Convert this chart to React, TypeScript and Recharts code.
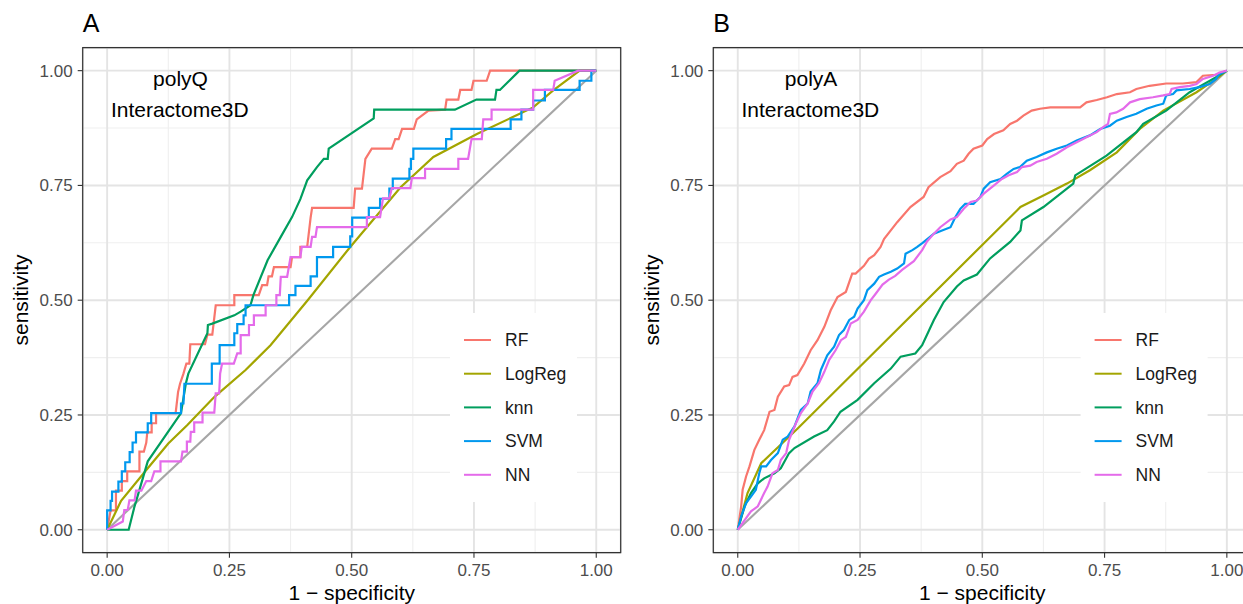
import React from "react";
import { LineChart, Line, XAxis, YAxis, CartesianGrid, ReferenceArea } from "recharts";

type Pt = [number, number];

// ROC curves: [1 - specificity, sensitivity]
const models = ["RF", "LogReg", "knn", "SVM", "NN"];
const modelColors = ["#F8766D", "#A3A500", "#009E5E", "#0098EE", "#E46BEA"];
const axisTicks = [0, 0.25, 0.5, 0.75, 1];
const minorTicks = [0.125, 0.375, 0.625, 0.875];
const chanceLine: Pt[] = [[0, 0], [1, 1]];

const polyQ_RF: Pt[] = [
  [0, 0], [0.007, 0.042], [0.018, 0.042], [0.018, 0.085], [0.03, 0.085], [0.03, 0.106], [0.041, 0.106],
  [0.041, 0.127], [0.066, 0.127], [0.066, 0.17], [0.075, 0.17], [0.08, 0.19], [0.082, 0.212], [0.091, 0.212],
  [0.091, 0.232], [0.1, 0.232], [0.1, 0.254], [0.14, 0.254], [0.145, 0.3], [0.149, 0.318], [0.156, 0.34],
  [0.162, 0.362], [0.168, 0.362], [0.17, 0.404], [0.2, 0.404], [0.205, 0.425], [0.215, 0.425], [0.222, 0.489],
  [0.26, 0.489], [0.26, 0.511], [0.31, 0.511], [0.317, 0.533], [0.327, 0.533], [0.33, 0.552], [0.337, 0.552],
  [0.341, 0.572], [0.375, 0.572], [0.378, 0.594], [0.395, 0.594], [0.395, 0.616], [0.409, 0.616], [0.416, 0.68],
  [0.419, 0.701], [0.504, 0.701], [0.507, 0.743], [0.521, 0.743], [0.528, 0.808], [0.541, 0.83], [0.582, 0.83],
  [0.589, 0.851], [0.596, 0.851], [0.603, 0.873], [0.627, 0.873], [0.633, 0.894], [0.657, 0.913], [0.691, 0.915],
  [0.694, 0.937], [0.718, 0.937], [0.722, 0.958], [0.745, 0.958], [0.749, 0.978], [0.776, 0.978], [0.783, 1], [1, 1],
];
const polyQ_LogReg: Pt[] = [
  [0, 0], [0.0285, 0.063], [0.083, 0.134], [0.125, 0.188], [0.164, 0.228], [0.22, 0.29], [0.283, 0.348],
  [0.334, 0.402], [0.41, 0.5], [0.497, 0.616], [0.6, 0.746], [0.667, 0.812], [0.756, 0.862], [0.871, 0.92],
  [0.912, 0.957], [0.966, 1], [1, 1],
];
const polyQ_knn: Pt[] = [
  [0, 0], [0.044, 0], [0.056, 0.051], [0.063, 0.076], [0.083, 0.149], [0.151, 0.254], [0.161, 0.319],
  [0.166, 0.34], [0.205, 0.428], [0.206, 0.446], [0.215, 0.449], [0.26, 0.467], [0.273, 0.475], [0.293, 0.489],
  [0.299, 0.511], [0.328, 0.587], [0.355, 0.638], [0.378, 0.681], [0.395, 0.72], [0.409, 0.761], [0.429, 0.79],
  [0.443, 0.808], [0.451, 0.808], [0.453, 0.83], [0.545, 0.896], [0.546, 0.915], [0.711, 0.915], [0.755, 0.937],
  [0.793, 0.937], [0.796, 0.958], [0.803, 0.958], [0.843, 1], [1, 1],
];
const polyQ_SVM: Pt[] = [
  [0, 0], [0, 0.042], [0.007, 0.042], [0.007, 0.063], [0.01, 0.063], [0.01, 0.083], [0.023, 0.083],
  [0.023, 0.105], [0.03, 0.105], [0.03, 0.127], [0.037, 0.127], [0.037, 0.147], [0.046, 0.147], [0.046, 0.169],
  [0.052, 0.169], [0.052, 0.19], [0.059, 0.19], [0.059, 0.212], [0.083, 0.212], [0.083, 0.232], [0.09, 0.232],
  [0.09, 0.254], [0.151, 0.254], [0.151, 0.275], [0.156, 0.275], [0.158, 0.318], [0.214, 0.318], [0.214, 0.362],
  [0.23, 0.362], [0.23, 0.402], [0.26, 0.402], [0.26, 0.428], [0.266, 0.428], [0.266, 0.448], [0.279, 0.448],
  [0.279, 0.467], [0.283, 0.467], [0.283, 0.489], [0.372, 0.489], [0.372, 0.511], [0.385, 0.511], [0.385, 0.531],
  [0.416, 0.531], [0.416, 0.552], [0.429, 0.552], [0.429, 0.594], [0.462, 0.594], [0.462, 0.616], [0.497, 0.616],
  [0.497, 0.639], [0.501, 0.639], [0.501, 0.68], [0.535, 0.68], [0.535, 0.701], [0.558, 0.701], [0.558, 0.721],
  [0.577, 0.721], [0.577, 0.743], [0.584, 0.743], [0.584, 0.765], [0.618, 0.765], [0.618, 0.786], [0.621, 0.786],
  [0.621, 0.808], [0.626, 0.808], [0.626, 0.83], [0.693, 0.83], [0.693, 0.851], [0.704, 0.851], [0.704, 0.873],
  [0.825, 0.873], [0.825, 0.894], [0.847, 0.894], [0.847, 0.915], [0.871, 0.915], [0.871, 0.935], [0.895, 0.935],
  [0.895, 0.958], [0.966, 0.958], [0.966, 0.978], [0.99, 0.978], [0.99, 1], [1, 1],
];
const polyQ_NN: Pt[] = [
  [0, 0], [0.032, 0.018], [0.035, 0.043], [0.042, 0.043], [0.0455, 0.064], [0.056, 0.064], [0.059, 0.085],
  [0.07, 0.085], [0.08, 0.106], [0.09, 0.106], [0.0965, 0.127], [0.109, 0.127], [0.109, 0.149], [0.151, 0.149],
  [0.154, 0.17], [0.163, 0.17], [0.163, 0.192], [0.17, 0.192], [0.171, 0.213], [0.178, 0.213], [0.178, 0.234],
  [0.195, 0.234], [0.195, 0.255], [0.219, 0.255], [0.222, 0.297], [0.229, 0.297], [0.231, 0.34], [0.235, 0.362],
  [0.259, 0.362], [0.266, 0.384], [0.273, 0.384], [0.273, 0.424], [0.29, 0.424], [0.29, 0.446], [0.3, 0.446],
  [0.3, 0.467], [0.324, 0.467], [0.324, 0.489], [0.346, 0.489], [0.346, 0.511], [0.353, 0.511], [0.355, 0.551],
  [0.368, 0.551], [0.375, 0.594], [0.395, 0.594], [0.398, 0.616], [0.416, 0.616], [0.419, 0.638], [0.426, 0.638],
  [0.429, 0.659], [0.531, 0.659], [0.531, 0.681], [0.558, 0.681], [0.564, 0.722], [0.577, 0.722], [0.582, 0.744],
  [0.62, 0.744], [0.623, 0.766], [0.65, 0.766], [0.65, 0.786], [0.718, 0.786], [0.718, 0.808], [0.738, 0.808],
  [0.745, 0.851], [0.766, 0.851], [0.769, 0.894], [0.786, 0.894], [0.786, 0.915], [0.871, 0.915], [0.871, 0.958],
  [0.912, 0.958], [0.915, 0.978], [0.963, 1], [1, 1],
];

const polyA_RF: Pt[] = [
  [0, 0], [0.007, 0.051], [0.01, 0.087], [0.017, 0.116], [0.024, 0.138], [0.034, 0.174], [0.044, 0.196],
  [0.054, 0.217], [0.065, 0.257], [0.075, 0.261], [0.082, 0.29], [0.095, 0.312], [0.105, 0.315], [0.112, 0.333],
  [0.122, 0.337], [0.136, 0.362], [0.149, 0.391], [0.163, 0.413], [0.177, 0.442], [0.19, 0.478], [0.204, 0.507],
  [0.221, 0.518], [0.234, 0.558], [0.241, 0.558], [0.258, 0.575], [0.268, 0.59], [0.279, 0.598], [0.292, 0.616],
  [0.299, 0.633], [0.326, 0.67], [0.353, 0.703], [0.38, 0.725], [0.39, 0.746], [0.414, 0.768], [0.435, 0.781],
  [0.448, 0.797], [0.462, 0.804], [0.472, 0.819], [0.482, 0.83], [0.5, 0.837], [0.51, 0.851], [0.524, 0.862],
  [0.543, 0.87], [0.557, 0.884], [0.571, 0.891], [0.584, 0.902], [0.601, 0.913], [0.618, 0.917], [0.639, 0.92],
  [0.7, 0.92], [0.713, 0.931], [0.734, 0.936], [0.755, 0.942], [0.775, 0.949], [0.802, 0.953], [0.815, 0.96],
  [0.842, 0.967], [0.876, 0.972], [0.91, 0.972], [0.938, 0.975], [0.951, 0.989], [0.978, 0.991], [1, 1],
];
const polyA_LogReg: Pt[] = [
  [0, 0], [0.02, 0.08], [0.048, 0.145], [0.122, 0.22], [0.578, 0.703], [0.625, 0.728], [0.673, 0.754],
  [0.72, 0.783], [0.775, 0.822], [0.822, 0.873], [0.87, 0.913], [0.938, 0.953], [0.978, 0.982], [1, 1],
];
const polyA_knn: Pt[] = [
  [0, 0], [0.014, 0.051], [0.027, 0.08], [0.041, 0.101], [0.054, 0.112], [0.075, 0.123], [0.088, 0.134],
  [0.105, 0.167], [0.116, 0.178], [0.156, 0.203], [0.183, 0.217], [0.197, 0.236], [0.21, 0.257], [0.245, 0.283],
  [0.279, 0.319], [0.313, 0.351], [0.333, 0.377], [0.363, 0.384], [0.377, 0.402], [0.401, 0.457], [0.421, 0.496],
  [0.448, 0.53], [0.462, 0.543], [0.489, 0.556], [0.516, 0.591], [0.557, 0.627], [0.578, 0.652], [0.581, 0.674],
  [0.625, 0.703], [0.686, 0.754], [0.69, 0.772], [0.754, 0.815], [0.815, 0.866], [0.829, 0.884], [0.876, 0.913],
  [0.924, 0.953], [0.978, 0.986], [1, 1],
];
const polyA_SVM: Pt[] = [
  [0, 0], [0.007, 0.029], [0.017, 0.058], [0.027, 0.072], [0.037, 0.087], [0.044, 0.123], [0.048, 0.138],
  [0.058, 0.138], [0.068, 0.152], [0.082, 0.167], [0.092, 0.196], [0.102, 0.203], [0.116, 0.225], [0.129, 0.261],
  [0.143, 0.275], [0.149, 0.301], [0.163, 0.319], [0.17, 0.348], [0.183, 0.38], [0.197, 0.399], [0.207, 0.424],
  [0.217, 0.435], [0.228, 0.457], [0.238, 0.464], [0.245, 0.482], [0.258, 0.5], [0.265, 0.522], [0.279, 0.536],
  [0.289, 0.551], [0.299, 0.556], [0.313, 0.562], [0.326, 0.569], [0.34, 0.58], [0.343, 0.601], [0.357, 0.609],
  [0.367, 0.616], [0.378, 0.625], [0.401, 0.645], [0.435, 0.659], [0.445, 0.681], [0.455, 0.699], [0.465, 0.71],
  [0.482, 0.71], [0.496, 0.725], [0.503, 0.743], [0.516, 0.757], [0.537, 0.764], [0.55, 0.775], [0.564, 0.786],
  [0.577, 0.79], [0.591, 0.804], [0.611, 0.812], [0.632, 0.822], [0.652, 0.83], [0.673, 0.837], [0.693, 0.848],
  [0.72, 0.859], [0.741, 0.873], [0.761, 0.88], [0.775, 0.891], [0.795, 0.899], [0.815, 0.906], [0.836, 0.917],
  [0.856, 0.924], [0.87, 0.928], [0.876, 0.946], [0.89, 0.949], [0.897, 0.957], [0.924, 0.96], [0.944, 0.964],
  [0.965, 0.971], [0.978, 0.982], [0.985, 0.993], [1, 1],
];
const polyA_NN: Pt[] = [
  [0, 0], [0.01, 0.015], [0.027, 0.04], [0.041, 0.051], [0.054, 0.08], [0.061, 0.094], [0.071, 0.123],
  [0.082, 0.13], [0.088, 0.152], [0.099, 0.167], [0.105, 0.196], [0.119, 0.232], [0.129, 0.254], [0.143, 0.275],
  [0.153, 0.301], [0.166, 0.319], [0.177, 0.344], [0.187, 0.37], [0.2, 0.391], [0.211, 0.413], [0.221, 0.42],
  [0.231, 0.449], [0.245, 0.457], [0.258, 0.475], [0.272, 0.5], [0.282, 0.514], [0.296, 0.534], [0.309, 0.545],
  [0.322, 0.553], [0.336, 0.566], [0.36, 0.585], [0.377, 0.609], [0.387, 0.628], [0.401, 0.645], [0.414, 0.659],
  [0.435, 0.676], [0.448, 0.681], [0.462, 0.699], [0.476, 0.714], [0.489, 0.717], [0.503, 0.732], [0.524, 0.75],
  [0.54, 0.764], [0.554, 0.772], [0.571, 0.779], [0.581, 0.79], [0.598, 0.793], [0.611, 0.801], [0.632, 0.808],
  [0.652, 0.819], [0.673, 0.833], [0.693, 0.844], [0.713, 0.855], [0.734, 0.866], [0.747, 0.877], [0.757, 0.884],
  [0.761, 0.906], [0.774, 0.909], [0.788, 0.917], [0.802, 0.931], [0.822, 0.938], [0.849, 0.942], [0.87, 0.946],
  [0.883, 0.949], [0.887, 0.96], [0.904, 0.964], [0.924, 0.967], [0.938, 0.971], [0.951, 0.982], [0.972, 0.989],
  [0.985, 0.996], [1, 1],
];

const FONT = "'Liberation Sans', Arial, Helvetica, sans-serif";

interface PanelProps {
  left: number;
  marginLeft: number;
  marginRight: number;
  curves: Pt[][];
}

const toRows = (pts: Pt[]) => pts.map(([x, y]) => ({ x, y }));

function RocPanel({ left, marginLeft, marginRight, curves }: PanelProps) {
  const tickStyle = { fill: "#4D4D4D", fontSize: 17, fontFamily: FONT };
  return (
    <div style={{ position: "absolute", left, top: 0 }}>
      <LineChart
        width={640}
        height={604}
        margin={{ top: 47.7, right: marginRight, bottom: 21.3, left: marginLeft }}
      >
        <CartesianGrid
          stroke="#EFEFEF"
          strokeWidth={1.1}
          verticalValues={minorTicks}
          horizontalValues={minorTicks}
        />
        <CartesianGrid stroke="#E4E4E4" strokeWidth={1.9} />
        <XAxis
          type="number"
          dataKey="x"
          domain={[-0.05, 1.05]}
          ticks={axisTicks}
          allowDataOverflow
          height={30}
          tickSize={5}
          tickMargin={6}
          axisLine={false}
          tickLine={{ stroke: "#333333", strokeWidth: 1.1 }}
          tick={tickStyle}
          tickFormatter={(v: number) => v.toFixed(2)}
        />
        <YAxis
          type="number"
          dataKey="y"
          domain={[-0.05, 1.05]}
          ticks={axisTicks}
          allowDataOverflow
          width={60}
          tickSize={5}
          tickMargin={5}
          axisLine={false}
          tickLine={{ stroke: "#333333", strokeWidth: 1.1 }}
          tick={tickStyle}
          tickFormatter={(v: number) => v.toFixed(2)}
        />
        <Line
          data={toRows(chanceLine)}
          dataKey="y"
          stroke="#A6A6A6"
          strokeWidth={2.1}
          dot={false}
          isAnimationActive={false}
        />
        {curves.map((pts, i) => (
          <Line
            key={models[i]}
            name={models[i]}
            data={toRows(pts)}
            dataKey="y"
            type="linear"
            stroke={modelColors[i]}
            strokeWidth={2.2}
            dot={false}
            isAnimationActive={false}
          />
        ))}
        <ReferenceArea
          x1={-0.05}
          x2={1.05}
          y1={-0.05}
          y2={1.05}
          fill="none"
          stroke="#333333"
          strokeWidth={1.2}
          ifOverflow="visible"
        />
      </LineChart>
    </div>
  );
}

// text layer: panel letters, axis titles, in-plot notes and the legends
const panelLetters = ["A", "B"];
const panelNotes = ["polyQ", "polyA"];
const panelOffsets = [0, 630.6];

function Overlay() {
  return (
    <svg
      width={1243}
      height={604}
      style={{ position: "absolute", left: 0, top: 0, pointerEvents: "none" }}
      fontFamily={FONT}
    >
      {panelOffsets.map((dx, p) => (
        <g key={p} transform={`translate(${dx},0)`}>
          <text x={82.7} y={31.5} fontSize={25} fill="#000">
            {panelLetters[p]}
          </text>
          <text
            transform="translate(28,300) rotate(-90)"
            textAnchor="middle"
            fontSize={21}
            fill="#000"
          >
            sensitivity
          </text>
          <text x={351.7} y={600} textAnchor="middle" fontSize={21} fill="#000">
            1 − specificity
          </text>
          <text x={180.5} y={86} textAnchor="middle" fontSize={21} fill="#000">
            {panelNotes[p]}
          </text>
          <text x={179.8} y={116.7} textAnchor="middle" fontSize={21} fill="#000">
            Interactome3D
          </text>
          <rect x={450} y={313} width={127} height={189} fill="#FFFFFF" />
          {models.map((m, i) => {
            const cy = 340 + i * 33.7;
            return (
              <g key={m}>
                <line x1={464} x2={491} y1={cy} y2={cy} stroke={modelColors[i]} strokeWidth={2} />
                <text x={505} y={cy + 6.2} fontSize={17.5} fill="#1A1A1A">
                  {m}
                </text>
              </g>
            );
          })}
        </g>
      ))}
    </svg>
  );
}

export default function App() {
  return (
    <div
      style={{
        position: "absolute",
        left: 0,
        top: 0,
        width: 1243,
        height: 604,
        overflow: "hidden",
        background: "#FFFFFF",
      }}
    >
      <RocPanel
        left={0}
        marginLeft={22.7}
        marginRight={19.3}
        curves={[polyQ_RF, polyQ_LogReg, polyQ_knn, polyQ_SVM, polyQ_NN]}
      />
      <RocPanel
        left={630}
        marginLeft={23.3}
        marginRight={18.7}
        curves={[polyA_RF, polyA_LogReg, polyA_knn, polyA_SVM, polyA_NN]}
      />
      <Overlay />
    </div>
  );
}
